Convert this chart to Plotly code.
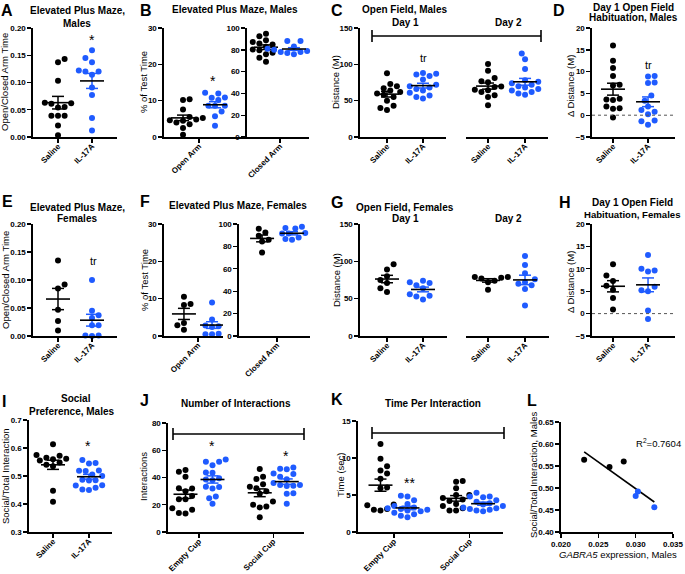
import numpy as np
import plotly.graph_objects as go

W, H = 685, 574
BLACK = "#000000"
BLUE = "#1f5bff"
FONT = "Arial, 'Liberation Sans', Helvetica, sans-serif"

# ---------------- data ----------------
groups = ["Saline", "IL-17A"]
arms_open = ["Open Arm"]
arms_closed = ["Closed Arm"]
cups = ["Empty Cup", "Social Cup"]

# A  EPM open/closed ratio, males
epm_m_ratio_sal = [0.143, 0.137, 0.103, 0.063, 0.062, 0.061, 0.055, 0.054, 0.039, 0.039, 0.039, 0.021, 0.003]
epm_m_ratio_il = [0.159, 0.145, 0.137, 0.122, 0.120, 0.120, 0.114, 0.091, 0.077, 0.035, 0.012]
# B  EPM % time, males
epm_m_open_sal = [10.4, 10.2, 7.6, 5.5, 5.2, 5.0, 4.8, 4.6, 4.5, 4.0, 3.5, 2.5, 0.6]
epm_m_open_il = [12.2, 12.0, 10.9, 10.8, 10.2, 8.6, 8.6, 8.6, 7.0, 5.7, 3.1]
epm_m_closed_sal = [94.8, 92.4, 88.8, 87.2, 85.7, 84.8, 82.7, 80.2, 79.6, 77.2, 76.0, 72.6, 69.0]
epm_m_closed_il = [88, 88, 83, 81, 80, 80, 79, 78, 78, 77, 76]
# C  Open field distance, males
of_m_d1_sal = [87.7, 73, 70, 67, 64, 62, 60, 58, 55, 50, 43, 40, 37]
of_m_d1_il = [88, 87, 86, 84, 79, 72, 70, 68, 66, 64, 61, 57, 55, 53]
of_m_d2_sal = [100.3, 91.3, 81.3, 76.8, 75.5, 69.6, 68.7, 65, 64.2, 61.9, 57.4, 55, 43.8]
of_m_d2_il = [115, 107, 93.5, 78, 76, 74, 72, 70, 68, 66, 64, 62, 60, 58]
# D  Habituation, males
hab_m_sal = [16, 12.5, 10.8, 9.0, 7.0, 6.8, 3.8, 3.6, 3.5, 2.0, 1.6, 1.5, -0.5]
hab_m_il = [9.0, 8.9, 7.5, 7.4, 4.5, 3.3, 2.0, 1.2, 0.8, 0.2, -1.2, -1.4, -2.2]
# E  EPM ratio, females
epm_f_ratio_sal = [0.135, 0.092, 0.085, 0.047, 0.027, 0.010]
epm_f_ratio_il = [0.100, 0.045, 0.037, 0.032, 0.019, 0.019, 0.001, 0.0, 0.001]
# F  EPM % time, females
epm_f_open_sal = [10.5, 8.6, 8.3, 3.5, 2.9, 1.7]
epm_f_open_il = [9.0, 4.4, 3.6, 2.8, 2.6, 2.4, 0.6, 0.5, 0.5]
epm_f_closed_sal = [95.8, 92.5, 89.5, 86.0, 84.4, 74.5]
epm_f_closed_il = [97.5, 96.5, 96.0, 92.0, 91.5, 91.5, 88.0, 86.5, 86.0]
# G  Open field distance, females
of_f_d1_sal = [96, 89, 80, 75, 71, 64, 59]
of_f_d1_il = [74, 72, 71, 68, 64, 56, 54, 53, 49]
of_f_d2_sal = [79, 79, 78, 77, 74, 72, 62]
of_f_d2_il = [107, 95, 84, 76, 72, 70, 68, 63, 41]
# H  Habituation, females
hab_f_sal = [11.0, 8.5, 7.3, 6.2, 5.3, 3.5, 0.9]
hab_f_il = [13.1, 10.0, 9.6, 9.4, 6.0, 5.2, 5.0, 0.7, -1.2]
# I  Social preference, males
soc_pref_sal = [0.613, 0.575, 0.572, 0.565, 0.562, 0.560, 0.555, 0.548, 0.540, 0.535, 0.447, 0.408]
soc_pref_il = [0.557, 0.546, 0.545, 0.520, 0.519, 0.518, 0.505, 0.500, 0.487, 0.485, 0.484,
               0.467, 0.466, 0.458, 0.452, 0.450]
# J  Number of interactions
n_int_empty_sal = [45.5, 44.3, 40.6, 32.1, 32, 30, 26.5, 24, 24, 17.5, 16.3, 14, 13.5]
n_int_empty_il = [53.3, 51.6, 51.5, 49, 43.6, 43.5, 39.4, 38.5, 38, 33.3, 33, 32, 26, 24.8, 20.7]
n_int_social_sal = [46.2, 40.6, 38.9, 35, 33.3, 32.1, 30, 28, 22.4, 20, 18.7, 18, 10.9]
n_int_social_il = [47.4, 46.5, 46, 43, 42.5, 40.6, 38.7, 36, 34.5, 34, 34.5, 33.8, 28.5, 28, 20.7]
# K  Time per interaction
t_int_empty_sal = [11.9, 9.9, 8.9, 8.3, 7.9, 7.2, 6.0, 5.9, 3.7, 3.6, 3.1, 3.0, 2.9]
t_int_empty_il = [4.9, 4.8, 4.3, 3.8, 3.5, 3.3, 3.2, 3.1, 3.0, 2.9, 2.8, 2.6, 2.4, 2.2, 2.0]
t_int_social_sal = [6.9, 6.8, 5.9, 5.0, 5.0, 4.6, 4.4, 4.2, 3.8, 3.5, 3.2, 2.9, 2.9]
t_int_social_il = [5.3, 4.8, 4.8, 4.7, 4.3, 4.1, 3.9, 3.7, 3.5, 3.3, 3.2, 3.1, 3.0, 2.9, 2.8]
# L  GABRA5 vs social preference
gabra5_sal = [0.0231, 0.0265, 0.0284]
soc_corr_sal = [0.564, 0.548, 0.560]
gabra5_il = [0.0300, 0.0303, 0.0325]
soc_corr_il = [0.482, 0.492, 0.456]
r2_text = "R<sup>2</sup>=0.7604"

# ---------------- helpers ----------------
fig = go.Figure()
layout_axes = {}
shapes = []
annotations = []
count = [0]


def dom_x(x0, x1):
    return [x0 / W, x1 / W]


def dom_y(top, bot):
    return [1 - bot / H, 1 - top / H]


def new_axes(xpx, ypx, xrange, yrange, ydtick, yfmt, xtickvals, xticktext,
             yvisible=True, xtickangle=-45, xdtick=None, xfmt=None):
    count[0] += 1
    n = count[0]
    s = "" if n == 1 else str(n)
    common = dict(showline=True, linecolor=BLACK, linewidth=1.6, ticks="outside",
                  ticklen=4, tickwidth=1.4, tickcolor=BLACK, showgrid=False,
                  zeroline=False, automargin=False,
                  tickfont=dict(family=FONT, size=8, color=BLACK, weight="bold"))
    xa = dict(domain=dom_x(*xpx), range=xrange, anchor="y" + s, **common)
    if xdtick is not None:
        xa.update(dtick=xdtick, tickformat=xfmt, tickangle=xtickangle, tick0=xrange[0])
    else:
        xa.update(tickmode="array", tickvals=xtickvals, ticktext=xticktext, tickangle=xtickangle,
                  ticklabelstandoff=-4)
    ya = dict(domain=dom_y(*ypx), range=yrange, anchor="x" + s, dtick=ydtick,
              tick0=yrange[0], tickformat=yfmt, **common)
    if not yvisible:
        ya.update(visible=False)
    layout_axes["xaxis" + s] = xa
    layout_axes["yaxis" + s] = ya
    ppx = (xpx[1] - xpx[0]) / (xrange[1] - xrange[0])
    ppy = (ypx[1] - ypx[0]) / (yrange[1] - yrange[0])
    return "x" + s, "y" + s, ppx, ppy


def swarm_offsets(vals, ppx, ppy, d=6.6):
    vals = np.asarray(vals, dtype=float)
    order = np.argsort(vals)
    placed = []
    offs = np.zeros(len(vals))
    for j, i in enumerate(order):
        y = vals[i] * ppy
        best = None
        for k in range(0, 60):
            cands = [0.0] if k == 0 else ([k * d * 0.5, -k * d * 0.5] if j % 2 == 0 else [-k * d * 0.5, k * d * 0.5])
            for x in cands:
                if all((x - px) ** 2 + (y - py) ** 2 >= (d * 0.98) ** 2 for px, py in placed):
                    best = x
                    break
            if best is not None:
                break
        placed.append((best, y))
        offs[i] = best / ppx
    return offs


def add_group(ax, center, vals, color):
    xa, ya, ppx, ppy = ax
    vals = np.asarray(vals, dtype=float)
    offs = swarm_offsets(vals, ppx, ppy)
    fig.add_trace(go.Scatter(x=center + offs, y=vals, mode="markers",
                             marker=dict(size=6, color=color, line=dict(width=0)),
                             xaxis=xa, yaxis=ya, cliponaxis=False, hoverinfo="skip"))
    m = vals.mean()
    se = vals.std(ddof=1) / np.sqrt(len(vals))
    mh = 12 / ppx
    ch = 6 / ppx
    fig.add_trace(go.Scatter(x=[center, center, None, center - ch, center + ch, None, center - ch, center + ch],
                             y=[m - se, m + se, None, m + se, m + se, None, m - se, m - se],
                             mode="lines", line=dict(color=color, width=1.5),
                             xaxis=xa, yaxis=ya, cliponaxis=False, hoverinfo="skip"))
    fig.add_trace(go.Scatter(x=[center - mh, center + mh], y=[m, m], mode="lines",
                             line=dict(color=BLACK, width=1.6),
                             xaxis=xa, yaxis=ya, cliponaxis=False, hoverinfo="skip"))


def text(px, py, s, size=10, bold=False, angle=0, color=BLACK, xanchor="center", yanchor="middle"):
    annotations.append(dict(x=px / W, y=1 - py / H, xref="paper", yref="paper", text=s,
                            showarrow=False, textangle=angle, xanchor=xanchor, yanchor=yanchor,
                            font=dict(family=FONT, size=size, color=color,
                                      weight="bold" if bold else "normal")))


def bracket(x0, x1, y, h=6):
    for (a, b, c, d) in [(x0, y, x1, y), (x0, y - h, x0, y + h), (x1, y - h, x1, y + h)]:
        shapes.append(dict(type="line", xref="paper", yref="paper", x0=a / W, x1=c / W,
                           y0=1 - b / H, y1=1 - d / H, line=dict(color=BLACK, width=1.6)))


def zero_line(ax):
    xa, ya = ax[0], ax[1]
    shapes.append(dict(type="line", xref=xa + " domain", yref=ya, x0=0, x1=1, y0=0, y1=0,
                       line=dict(color="#555555", width=1, dash="dot")))


# ---------------- row 1 ----------------
axA = new_axes((33, 117), (28, 137), [-0.735, 1.735], [0, 0.2], 0.05, ".2f", [0, 1], groups)
add_group(axA, 0, epm_m_ratio_sal, BLACK)
add_group(axA, 1, epm_m_ratio_il, BLUE)

axB1 = new_axes((164, 245), (28, 137), [-1.094, 1.4375], [0, 30], 10, "d", [0], arms_open)
add_group(axB1, -0.5, epm_m_open_sal, BLACK)
add_group(axB1, 0.5, epm_m_open_il, BLUE)
axB2 = new_axes((247, 309), (28, 137), [-1.18, 1.04], [0, 100], 20, "d", [0], arms_closed)
add_group(axB2, -0.5, epm_m_closed_sal, BLACK)
add_group(axB2, 0.5, epm_m_closed_il, BLUE)

axC1 = new_axes((360, 446), (28, 137), [-0.75, 1.64], [0, 150], 50, "d", [0, 1], groups)
add_group(axC1, 0, of_m_d1_sal, BLACK)
add_group(axC1, 1, of_m_d1_il, BLUE)
axC2 = new_axes((466, 548), (28, 137), [-0.595, 1.62], [0, 150], 50, "d", [0, 1], groups, yvisible=False)
add_group(axC2, 0, of_m_d2_sal, BLACK)
add_group(axC2, 1, of_m_d2_il, BLUE)

axD = new_axes((592, 675), (28, 137), [-0.6, 1.77], [-5, 20], 5, "d", [0, 1], groups)
zero_line(axD)
add_group(axD, 0, hab_m_sal, BLACK)
add_group(axD, 1, hab_m_il, BLUE)

# ---------------- row 2 ----------------
axE = new_axes((33, 117), (224, 336), [-0.735, 1.735], [0, 0.2], 0.05, ".2f", [0, 1], groups)
add_group(axE, 0, epm_f_ratio_sal, BLACK)
add_group(axE, 1, epm_f_ratio_il, BLUE)

axF1 = new_axes((164, 223), (224, 336), [-1.21, 0.89], [0, 30], 10, "d", [0], arms_open)
add_group(axF1, -0.5, epm_f_open_sal, BLACK)
add_group(axF1, 0.5, epm_f_open_il, BLUE)
axF2 = new_axes((239, 310), (224, 336), [-1.27, 1.1], [0, 100], 20, "d", [0], arms_closed)
add_group(axF2, -0.5, epm_f_closed_sal, BLACK)
add_group(axF2, 0.5, epm_f_closed_il, BLUE)

axG1 = new_axes((360, 447), (224, 336), [-0.75, 1.667], [0, 150], 50, "d", [0, 1], groups)
add_group(axG1, 0, of_f_d1_sal, BLACK)
add_group(axG1, 1, of_f_d1_il, BLUE)
axG2 = new_axes((466, 549), (224, 336), [-0.595, 1.649], [0, 150], 50, "d", [0, 1], groups, yvisible=False)
add_group(axG2, 0, of_f_d2_sal, BLACK)
add_group(axG2, 1, of_f_d2_il, BLUE)

axH = new_axes((592, 675), (224, 336), [-0.6, 1.77], [-5, 20], 5, "d", [0, 1], groups)
zero_line(axH)
add_group(axH, 0, hab_f_sal, BLACK)
add_group(axH, 1, hab_f_il, BLUE)

# ---------------- row 3 ----------------
axI = new_axes((29, 112), (420, 532), [-0.667, 1.64], [0.3, 0.7], 0.1, ".1f", [0, 1], groups)
add_group(axI, 0, soc_pref_sal, BLACK)
add_group(axI, 1, soc_pref_il, BLUE)

axJ = new_axes((168, 304), (423, 532), [-1.148, 3.889], [0, 80], 20, "d", [0, 2.75], cups)
add_group(axJ, -0.5, n_int_empty_sal, BLACK)
add_group(axJ, 0.5, n_int_empty_il, BLUE)
add_group(axJ, 2.25, n_int_social_sal, BLACK)
add_group(axJ, 3.25, n_int_social_il, BLUE)

axK = new_axes((358, 503), (421, 532), [-1.333, 4.037], [0, 15], 5, "d", [0, 2.8], cups)
add_group(axK, -0.5, t_int_empty_sal, BLACK)
add_group(axK, 0.5, t_int_empty_il, BLUE)
add_group(axK, 2.3, t_int_social_sal, BLACK)
add_group(axK, 3.3, t_int_social_il, BLUE)

axL = new_axes((561, 673), (422, 532), [0.02, 0.035], [0.4, 0.65], 0.05, ".2f", None, None,
               xtickangle=0, xdtick=0.005, xfmt=".3f")
gx = np.array(gabra5_sal + gabra5_il)
gy = np.array(soc_corr_sal + soc_corr_il)
slope, icpt = np.polyfit(gx, gy, 1)
fx = np.array([gx.min(), gx.max()])
fig.add_trace(go.Scatter(x=fx, y=slope * fx + icpt, mode="lines", line=dict(color=BLACK, width=1.6),
                         xaxis=axL[0], yaxis=axL[1], hoverinfo="skip"))
fig.add_trace(go.Scatter(x=gabra5_sal, y=soc_corr_sal, mode="markers", marker=dict(size=6, color=BLACK),
                         xaxis=axL[0], yaxis=axL[1], cliponaxis=False, hoverinfo="skip"))
fig.add_trace(go.Scatter(x=gabra5_il, y=soc_corr_il, mode="markers", marker=dict(size=6, color=BLUE),
                         xaxis=axL[0], yaxis=axL[1], cliponaxis=False, hoverinfo="skip"))

# ---------------- decorations ----------------
bracket(372, 541, 36)
bracket(173, 304, 434)
bracket(372, 504, 433)

# panel letters
for px, s in [(7, "A"), (146, "B"), (337, "C"), (559, "D")]:
    text(px, 0, s, size=16, bold=True, yanchor="top")
for px, py, s in [(7, 201, "E"), (145, 201, "F"), (337, 202, "G"), (565, 202, "H"),
                  (4, 401, "I"), (144, 400, "J"), (337, 399, "K"), (532, 400, "L")]:
    text(px, py, s, size=16, bold=True)

# titles
TS = 10
text(77, 11, "Elevated Plus Maze,", TS, True)
text(77, 23, "Males", TS, True)
text(235, 10, "Elevated Plus Maze, Males", TS, True)
text(404, 10, "Open Field, Males", TS, True)
text(405, 22, "Day 1", TS, True)
text(508, 22, "Day 2", TS, True)
text(633, 0, "Day 1 Open Field", TS, True, yanchor="top")
text(633, 18, "Habituation, Males", TS, True)

text(77, 207, "Elevated Plus Maze,", TS, True)
text(77, 219, "Females", TS, True)
text(238, 206, "Elevated Plus Maze, Females", TS, True)
text(405, 207, "Open Field, Females", TS, True)
text(405, 219, "Day 1", TS, True)
text(508, 219, "Day 2", TS, True)
text(632, 202, "Day 1 Open Field", TS, True)
text(632, 214, "Habituation, Females", 9.6, True)

text(76, 398, "Social", TS, True)
text(71, 411, "Preference, Males", TS, True)
text(236, 403, "Number of Interactions", TS, True)
text(433, 403, "Time Per Interaction", TS, True)

# y-axis titles
YS = 9.5
text(5, 82, "Open/Closed Arm Time", YS, angle=-90)
text(144, 82, "% of Test Time", YS, angle=-90)
text(336, 82, "Distance (M)", YS, angle=-90)
text(570, 86, "Δ Distance (M)", YS, angle=-90)
text(5, 280, "Open/Closed Arm Time", YS, angle=-90)
text(144, 280, "% of Test Time", YS, angle=-90)
text(336, 280, "Distance (M)", YS, angle=-90)
text(570, 282, "Δ Distance (M)", YS, angle=-90)
text(5, 476, "Social/Total Interaction", YS, angle=-90)
text(144, 477, "Interactions", YS, angle=-90)
text(340, 475, "Time (sec)", YS, angle=-90)
text(533, 475, "Social/Total Interaction, Males", YS, angle=-90)
text(618, 554, "<i>GABRA5</i> expression, Males", YS)
text(683, 443, r2_text, YS, xanchor="right")

# significance marks
text(92, 40, "*", 14)
text(213, 81, "*", 14)
text(423, 58, "tr", 11)
text(648, 65, "tr", 11)
text(93, 261, "tr", 11)
text(88, 446, "*", 14)
text(212, 446, "*", 14)
text(286, 456, "*", 14)
text(409, 483, "**", 14)

fig.update_layout(width=W, height=H, margin=dict(l=0, r=0, t=0, b=0),
                  paper_bgcolor="white", plot_bgcolor="white", showlegend=False,
                  font=dict(family=FONT, color=BLACK), shapes=shapes, annotations=annotations,
                  **layout_axes)
fig.write_html("out.html", config={"displayModeBar": False, "staticPlot": True},
               post_script="document.body.style.margin='0';document.body.style.overflow='hidden';")
